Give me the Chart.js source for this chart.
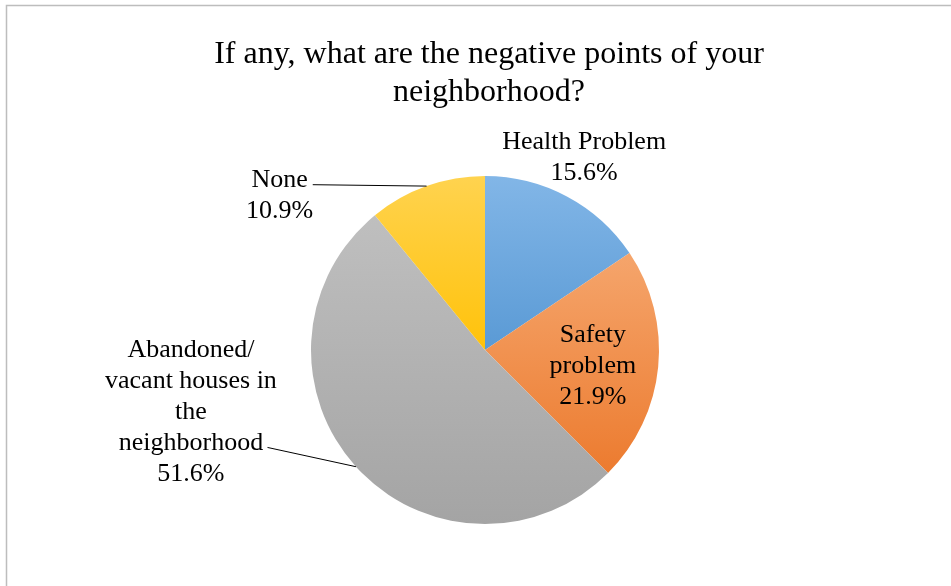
<!DOCTYPE html>
<html>
<head>
<meta charset="utf-8">
<script src="https://cdn.jsdelivr.net/npm/chart.js@4.4.1/dist/chart.umd.min.js"></script>
<style>
  html,body{margin:0;padding:0;background:#fff}
  #wrap{position:relative;width:951px;height:586px}
</style>
</head>
<body>
<div id="wrap"><canvas id="c" width="951" height="586"></canvas></div>
<script>
// chart data
const titleLines = ['If any, what are the negative points of your', 'neighborhood?']
const categories = ['Health Problem', 'Safety problem', 'Abandoned/ vacant houses in the neighborhood', 'None']
const values = [15.6, 21.9, 51.6, 10.9]
const labelLines = [
  ['Health Problem', '15.6%'],
  ['Safety', 'problem', '21.9%'],
  ['Abandoned/', 'vacant houses in', 'the', 'neighborhood', '51.6%'],
  ['None', '10.9%']
]

// styling: gradient top/bottom per slice (office look)
const topColors = ['#82b6e7', '#f5a56c', '#bfbfbf', '#ffd34f']
const botColors = ['#5a9ad5', '#ec7b2f', '#a4a4a4', '#ffc20a']
// label centres in units of radius from the pie centre, and leader lines
const labelPos = [[0.57, -1.105], [0.62, 0.095], [-1.69, 0.36], [-1.18, -0.885]]
const leader = [null, null, {x:-1.25, y:0.56}, {x:-0.99, y:-0.95}]
const FONT = '"Liberation Serif", "Times New Roman", serif'

function sliceAngles(i){
  const tot = values.reduce((a,b)=>a+b,0)
  let s = 0
  for(let k=0;k<i;k++) s += values[k]
  const a0 = -Math.PI/2 + s/tot*Math.PI*2
  const a1 = a0 + values[i]/tot*Math.PI*2
  return [a0,a1]
}

function sliceFill(ctx){
  const chart = ctx.chart, i = ctx.dataIndex
  const ca = chart.chartArea
  if(!ca) return botColors[i]
  const cx=(ca.left+ca.right)/2, cy=(ca.top+ca.bottom)/2
  const r = Math.min(ca.right-ca.left, ca.bottom-ca.top)/2
  const [a0,a1] = sliceAngles(i)
  let ymin = cy, ymax = cy
  for(let t=0;t<=60;t++){
    const a = a0+(a1-a0)*t/60
    const y = cy + r*Math.sin(a)
    ymin=Math.min(ymin,y); ymax=Math.max(ymax,y)
  }
  const g = chart.ctx.createLinearGradient(0,ymin,0,ymax)
  g.addColorStop(0, topColors[i]); g.addColorStop(1, botColors[i])
  return g
}

const decor = {
  id:'decor',
  beforeDraw(chart){
    const c = chart.ctx
    c.save()
    c.strokeStyle = '#bdbdbd'; c.lineWidth = 1.5
    c.beginPath(); c.moveTo(6.5, 600); c.lineTo(6.5, 5.5); c.lineTo(960, 5.5); c.stroke()
    c.fillStyle = '#000'; c.textAlign='center'; c.textBaseline='middle'
    c.font = '32px ' + FONT
    titleLines.forEach((t,k)=> c.fillText(t, 489, 55 + k*38))
    c.restore()
  },
  afterDatasetsDraw(chart){
    const c = chart.ctx
    const arc = chart.getDatasetMeta(0).data[0]
    const cx = arc.x, cy = arc.y, r = arc.outerRadius
    c.save()
    c.fillStyle = '#000'; c.textAlign='center'; c.textBaseline='middle'
    c.font = '26px ' + FONT
    const lh = 31
    labelLines.forEach((lines,i)=>{
      const lx = cx + labelPos[i][0]*r, ly = cy + labelPos[i][1]*r
      const y0 = ly - (lines.length-1)*lh/2
      lines.forEach((t,k)=> c.fillText(t, lx, y0 + k*lh))
      if(leader[i]){
        const [a0,a1] = sliceAngles(i)
        const m = (a0+a1)/2
        c.strokeStyle = '#000'; c.lineWidth = 1
        c.beginPath()
        c.moveTo(cx + leader[i].x*r, cy + leader[i].y*r)
        c.lineTo(cx + r*Math.cos(m), cy + r*Math.sin(m))
        c.stroke()
      }
    })
    c.restore()
  }
}

new Chart(document.getElementById('c'), {
  type:'pie',
  data:{labels:categories, datasets:[{data:values, backgroundColor:sliceFill, borderWidth:0}]},
  options:{
    responsive:false, animation:false,
    layout:{padding:{left:311, right:292, top:176, bottom:62}},
    plugins:{legend:{display:false}, tooltip:{enabled:false}, title:{display:false}}
  },
  plugins:[decor]
})
</script>
</body>
</html>
